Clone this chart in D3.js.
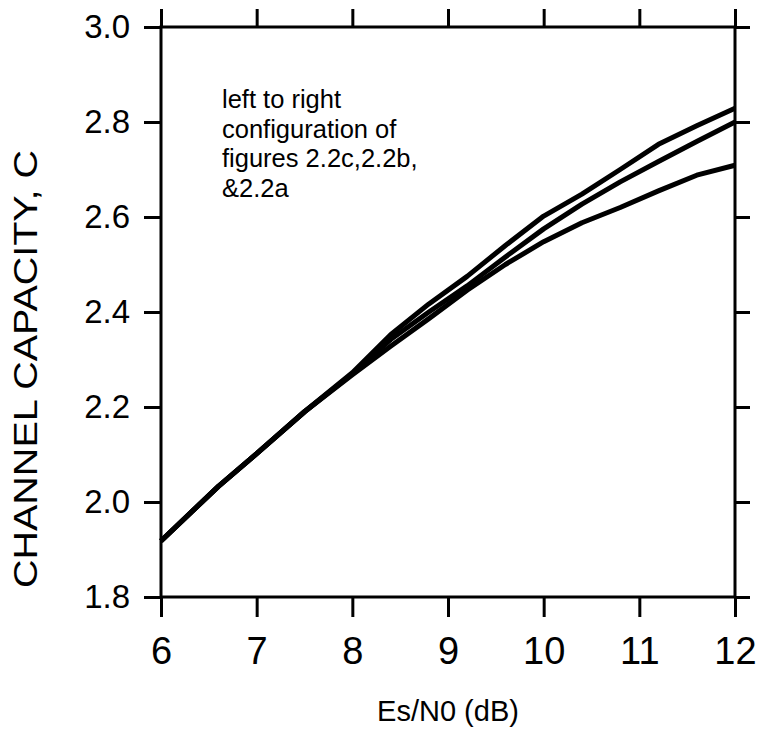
<!DOCTYPE html>
<html>
<head>
    <meta charset="utf-8" />
    <title>Channel capacity</title>
    <style>
    	body { margin: 0; background: #fff; }
    	text { font-family: "Liberation Sans", Arial, Helvetica, sans-serif; fill: #000; }
    </style>
</head>
<body>
<script src="https://d3js.org/d3.v7.min.js"></script>
<script>
    // Es/N0 sample points (dB)
    var esn0 = [6, 6.6, 7, 7.5, 8, 8.4, 8.8, 9.2, 9.6, 10, 10.4, 10.8, 11.2, 11.6, 12];

    // channel capacity for the three configurations
    var fig22c = [1.918, 2.033, 2.102, 2.190, 2.272, 2.352, 2.417, 2.475, 2.540, 2.602, 2.648, 2.700, 2.753, 2.792, 2.829];
    var fig22b = [1.918, 2.033, 2.102, 2.190, 2.270, 2.342, 2.400, 2.455, 2.516, 2.575, 2.627, 2.674, 2.717, 2.759, 2.800];
    var fig22a = [1.918, 2.033, 2.102, 2.190, 2.268, 2.328, 2.386, 2.446, 2.500, 2.548, 2.588, 2.620, 2.655, 2.688, 2.709];

    var xTicks = [6, 7, 8, 9, 10, 11, 12];
    var yTicks = [1.8, 2.0, 2.2, 2.4, 2.6, 2.8, 3.0];
    var noteLines = ["left to right", "configuration of", "figures 2.2c,2.2b,", "&2.2a"];

    var width = 760;
    var height = 729;
    var margin = {"left":161, "right":25, "top":27, "bottom":132};

    var svg = d3.select("body").append("svg")
                .attr("width", width)
                .attr("height", height);

    var x = d3.scaleLinear()
              .domain([6, 12])
              .range([margin.left, width - margin.right]);
    var y = d3.scaleLinear()
              .domain([1.8, 3.0])
              .range([height - margin.bottom, margin.top]);

    function styleAxis(g) {
    	g.select(".domain").remove();
    	g.selectAll(".tick line").attr("stroke", "#000").attr("stroke-width", 3);
    }

    // bottom axis with labels
    svg.append("g")
       .attr("transform", "translate(0," + y(1.8) + ")")
       .call(d3.axisBottom(x).tickValues(xTicks).tickSize(20).tickPadding(20).tickFormat(d3.format("d")))
       .call(styleAxis)
       .selectAll("text")
       .style("font-size", "38px");

    // top axis ticks only
    svg.append("g")
       .attr("transform", "translate(0," + y(3.0) + ")")
       .call(d3.axisTop(x).tickValues(xTicks).tickSize(18).tickFormat(""))
       .call(styleAxis);

    // left axis with labels
    svg.append("g")
       .attr("transform", "translate(" + x(6) + ",0)")
       .call(d3.axisLeft(y).tickValues(yTicks).tickSize(17).tickPadding(14).tickFormat(d3.format(".1f")))
       .call(styleAxis)
       .selectAll("text")
       .style("font-size", "33px");

    // right axis ticks only
    svg.append("g")
       .attr("transform", "translate(" + x(12) + ",0)")
       .call(d3.axisRight(y).tickValues(yTicks).tickSize(15).tickFormat(""))
       .call(styleAxis);

    // frame
    svg.append("rect")
       .attr("x", x(6))
       .attr("y", y(3.0))
       .attr("width", x(12) - x(6))
       .attr("height", y(1.8) - y(3.0))
       .attr("fill", "none")
       .attr("stroke", "#000")
       .attr("stroke-width", 3);

    var line = d3.line()
                 .x((d, i) => x(esn0[i]))
                 .y(d => y(d));

    svg.append("g")
       .selectAll("path")
       .data([fig22a, fig22b, fig22c])
       .enter().append("path")
       .attr("d", line)
       .attr("fill", "none")
       .attr("stroke", "#000")
       .attr("stroke-width", 5)
       .attr("stroke-linejoin", "round");

    // axis titles
    svg.append("text")
       .attr("x", (x(6) + x(12)) / 2)
       .attr("y", 721)
       .attr("text-anchor", "middle")
       .style("font-size", "29px")
       .text("Es/N0 (dB)");

    svg.append("text")
       .attr("transform", "translate(37," + 369 + ") rotate(-90)")
       .attr("text-anchor", "middle")
       .attr("textLength", 438)
       .attr("lengthAdjust", "spacingAndGlyphs")
       .style("font-size", "34px")
       .text("CHANNEL CAPACITY, C");

    // note
    svg.append("g")
       .selectAll("text")
       .data(noteLines)
       .enter().append("text")
       .attr("x", 222)
       .attr("y", (d, i) => 108 + i * 29.5)
       .style("font-size", "25.5px")
       .text(d => d);
</script>
</body>
</html>
